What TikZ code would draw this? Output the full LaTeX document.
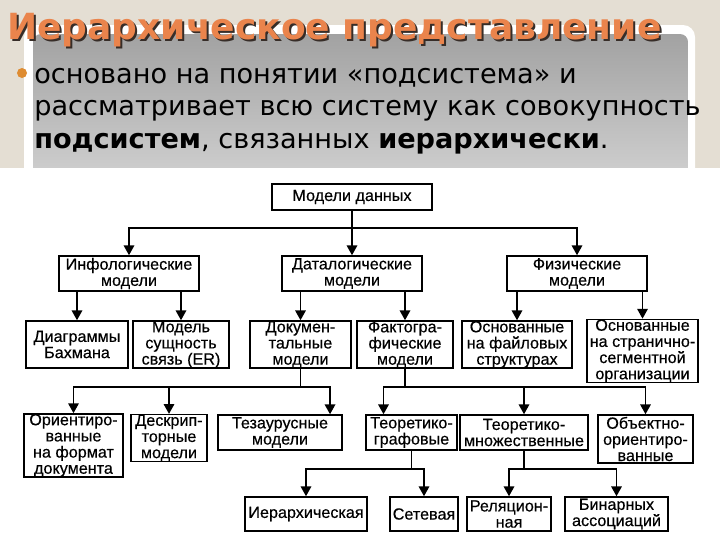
\documentclass[tikz,border=0pt]{standalone}
\usepackage{fontspec}
\setmainfont{DejaVu Sans}
\newfontfamily\boxfont[FakeBold=0.4]{Liberation Sans}
\usetikzlibrary{arrows.meta}
\definecolor{slidebeige}{RGB}{228,222,211}
\definecolor{paneltop}{RGB}{162,162,162}
\definecolor{panelbottom}{RGB}{208,208,208}
\definecolor{titleorange}{RGB}{234,132,76}
\definecolor{titleshade}{RGB}{55,45,40}
\definecolor{dotorange}{RGB}{222,140,50}

\begin{document}
\begin{tikzpicture}[x=0.025cm,y=-0.025cm,
    box/.style={draw, line width=1.1pt, align=center, inner sep=0pt,
        font=\boxfont\fontsize{11.5}{11.5}\selectfont},
    link/.style={line width=1.1pt},
    arr/.style={line width=1.1pt, -{Triangle[width=7.5pt,length=7pt]}},
    slidetext/.style={anchor=base west, inner sep=0pt, font=\fontsize{19.3}{23}\selectfont},
    titletext/.style={anchor=base west, inner sep=0pt, font=\fontsize{25.6}{30}\selectfont\bfseries}]
\useasboundingbox (0,0) rectangle (720,540);
\fill[slidebeige] (0,0) rectangle (720,540);
\fill[white, rounded corners=0.3cm] (24,25) rectangle (695,180);
\shade[top color=paneltop, bottom color=panelbottom, rounded corners=0.2cm] (33,34) rectangle (688,180);
\fill[white] (0,168) rectangle (720,540);

\node[titletext, text=titleshade] (titleshadow) at (9,41) {Иерархическое представление};
\node[titletext, text=titleorange] (title) at (7,39) {Иерархическое представление};
\node[circle, fill=dotorange, inner sep=0pt, minimum size=0.25cm] (dot) at (22,73) {};
\node[slidetext] (line1) at (34,83) {основано на понятии «подсистема» и};
\node[slidetext] (line2) at (34,115.5) {рассматривает всю систему как совокупность};
\node[slidetext] (line3) at (34,148) {\textbf{подсистем}, связанных \textbf{иерархически}.};

\node[box, minimum width=4cm, minimum height=0.65cm] (mod) at (352,197) {Модели данных};
\node[box, minimum width=3.5cm, minimum height=0.875cm] (info) at (129,273.5) {Инфологические\\модели};
\node[box, minimum width=3.5cm, minimum height=0.875cm] (datal) at (352,273.5) {Даталогические\\модели};
\node[box, minimum width=3.5cm, minimum height=0.875cm] (phys) at (577,273.5) {Физические\\модели};

\node[box, minimum width=2.55cm, minimum height=1.175cm] (bach) at (77,344.5) {Диаграммы\\Бахмана};
\node[box, minimum width=2.4cm, minimum height=1.175cm] (er) at (181,344.5) {Модель\\сущность\\связь (ER)};
\node[box, minimum width=2.525cm, minimum height=1.175cm] (doc) at (300.5,344.5) {Докумен-\\тальные\\модели};
\node[box, minimum width=2.4cm, minimum height=1.175cm] (fact) at (405,344.5) {Фактогра-\\фические\\модели};
\node[box, minimum width=2.75cm, minimum height=1.125cm] (file) at (517,344.5) {Основанные\\на файловых\\структурах};
\node[box, minimum width=2.775cm, minimum height=1.45cm] (page) at (642.5,351) {Основанные\\на странично-\\сегментной\\организации};

\node[box, minimum width=2.475cm, minimum height=1.525cm] (orient) at (73.5,445.5) {Ориентиро-\\ванные\\на формат\\документа};
\node[box, minimum width=1.9cm, minimum height=1.15cm] (descr) at (169,438) {Дескрип-\\торные\\модели};
\node[box, minimum width=3.1cm, minimum height=0.875cm] (thes) at (280,432.5) {Тезаурусные\\модели};
\node[box, minimum width=2.275cm, minimum height=0.875cm] (graph) at (411.5,432.5) {Теоретико-\\графовые};
\node[box, minimum width=3.2cm, minimum height=0.875cm] (set) at (524,432.5) {Теоретико-\\множественные};
\node[box, minimum width=2.375cm, minimum height=1.2cm] (obj) at (645.5,439) {Объектно-\\ориентиро-\\ванные};

\node[box, minimum width=3.05cm, minimum height=0.85cm] (hier) at (306,514) {Иерархическая};
\node[box, minimum width=1.7cm, minimum height=0.85cm] (net) at (424,514) {Сетевая};
\node[box, minimum width=2.1cm, minimum height=0.85cm] (rel) at (509,514) {Реляцион-\\ная};
\node[box, minimum width=2.575cm, minimum height=0.85cm] (bin) at (616.5,514) {Бинарных\\ассоциаций};

\coordinate (bus1) at (352,228);
\coordinate (bus2) at (300.5,387);
\coordinate (bus3) at (405,387);
\coordinate (bus4) at (411.5,469);
\coordinate (bus5) at (524,469);

\draw[arr] (mod) -- (datal);
\draw[arr] (bus1) -| (info);
\draw[arr] (bus1) -| (phys);
\draw[arr] (info.south -| bach) -- (bach);
\draw[arr] (info.south -| er) -- (er);
\draw[arr] (datal.south -| doc) -- (doc);
\draw[arr] (datal.south -| fact) -- (fact);
\draw[arr] (phys.south -| file) -- (file);
\draw[arr] (phys.south -| page) -- (page);

\draw[link] (doc) -- (bus2);
\draw[arr] (bus2) -| (orient);
\draw[arr] (bus2) -| (descr);
\draw[arr] (bus2) -| ([xshift=1.25cm]thes.north);
\draw[link] (fact) -- (bus3);
\draw[arr] (bus3) -| ([xshift=-0.7cm]graph.north);
\draw[arr] (bus3) -| (set);
\draw[arr] (bus3) -| (obj);

\draw[link] (graph) -- (bus4);
\draw[arr] (bus4) -| (hier);
\draw[arr] (bus4) -| (net);
\draw[link] (set) -- (bus5);
\draw[arr] (bus5) -| (rel);
\draw[arr] (bus5) -| (bin);
\end{tikzpicture}
\end{document}
